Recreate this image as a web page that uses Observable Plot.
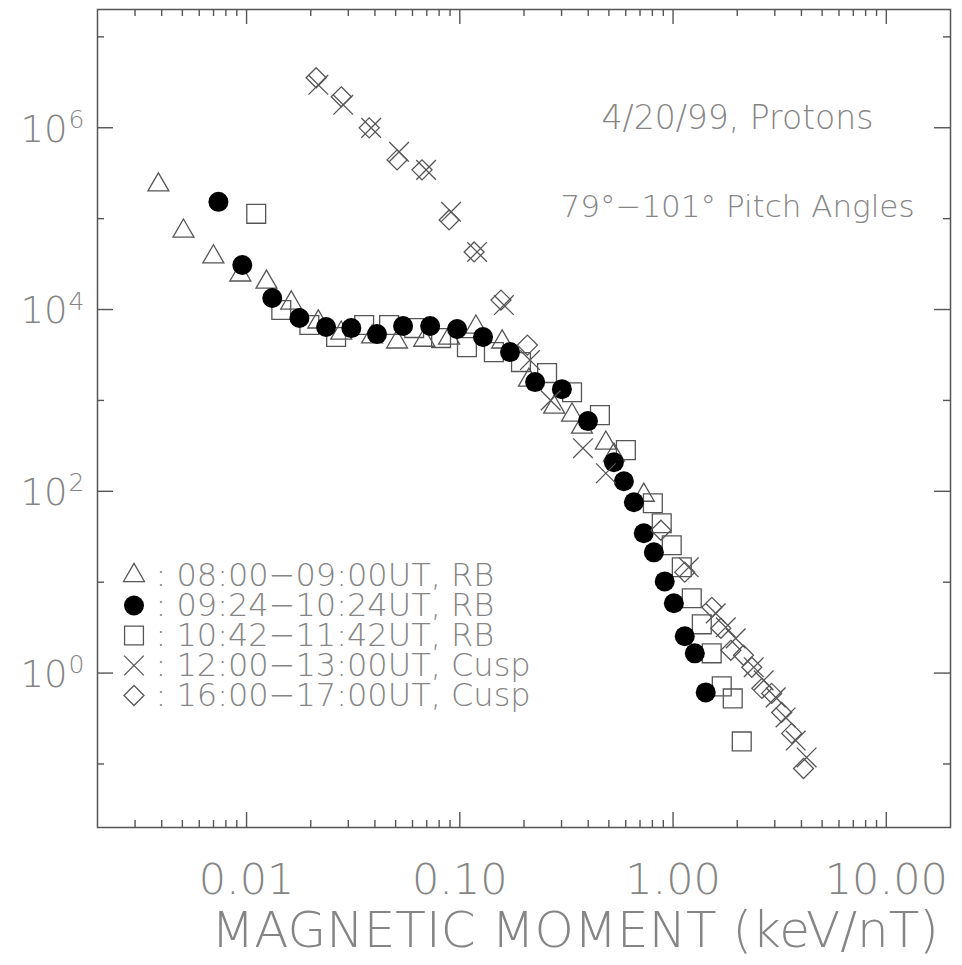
<!DOCTYPE html>
<html>
<head>
<meta charset="utf-8">
<script src="https://cdn.jsdelivr.net/npm/d3@7"></script>
<script src="https://cdn.jsdelivr.net/npm/@observablehq/plot@0.6"></script>
<style>
  html, body { margin: 0; padding: 0; background: #fff; }
  #chart svg { display: block; }
</style>
</head>
<body>
<div id="chart"></div>
<script>
// ---- Data (magnetic moment in keV/nT, phase space density) ----
const triM = [0.00386, 0.00506, 0.00699, 0.00935, 0.0124, 0.0162, 0.0217, 0.0278, 0.0388, 0.0508, 0.0681, 0.0891, 0.119, 0.158, 0.211, 0.277, 0.336, 0.374, 0.484, 0.528, 0.729];
const triF = [2.35e5, 7.3e4, 3.8e4, 2.4e4, 2.0e4, 1.18e4, 7.3e3, 5.5e3, 5.0e3, 4.4e3, 4.6e3, 4.85e3, 6.4e3, 4.4e3, 1.67e3, 844, 689, 508, 339, 250, 90.6];

const cirM = [0.00738, 0.00955, 0.0132, 0.0177, 0.0236, 0.031, 0.0409, 0.0542, 0.0726, 0.0971, 0.1285, 0.172, 0.2255, 0.301, 0.399, 0.528, 0.588, 0.655, 0.729, 0.813, 0.914, 1.009, 1.135, 1.265, 1.423];
const cirF = [1.53e5, 3.09e4, 1.34e4, 8.06e3, 6.42e3, 6.25e3, 5.37e3, 6.58e3, 6.58e3, 6.10e3, 4.98e3, 3.40e3, 1.59e3, 1.33e3, 592, 209, 129, 75.8, 34.6, 21.3, 10.2, 5.86, 2.54, 1.65, 0.613];

const sqM = [0.0111, 0.01455, 0.0197, 0.0263, 0.0356, 0.0466, 0.0611, 0.0817, 0.108, 0.1445, 0.1936, 0.2566, 0.336, 0.454, 0.601, 0.804, 0.885, 0.986, 1.099, 1.224, 1.364, 1.518, 1.692, 1.905, 2.10];
const sqF = [1.13e5, 9.87e3, 6.75e3, 4.98e3, 6.75e3, 6.75e3, 6.25e3, 4.85e3, 3.86e3, 3.40e3, 2.64e3, 2.0e3, 1.23e3, 689, 284, 73.9, 44.5, 25.5, 14.6, 6.65, 3.44, 1.65, 0.714, 0.526, 0.177];

const crsM = [0.0217, 0.0284, 0.0384, 0.0519, 0.0695, 0.091, 0.1205, 0.161, 0.2133, 0.2667, 0.378, 0.484, 1.185, 1.585, 1.767, 1.967, 2.39, 2.66, 3.03, 3.37, 3.76, 4.23];
const crsF = [2.97e6, 1.79e6, 9.97e5, 5.43e5, 3.44e5, 1.19e5, 4.30e4, 1.12e4, 2.78e3, 1.0e3, 298, 158, 14.6, 4.54, 3.19, 2.41, 1.16, 0.831, 0.540, 0.325, 0.181, 0.118];

const diaM = [0.0212, 0.0278, 0.0376, 0.0508, 0.0665, 0.0891, 0.1167, 0.156, 0.2075, 0.877, 1.135, 1.52, 1.675, 1.866, 2.14, 2.34, 2.61, 2.90, 3.23, 3.60, 4.09];
const diaF = [3.55e6, 2.19e6, 9.97e5, 4.43e5, 3.44e5, 9.68e4, 4.30e4, 1.27e4, 4.06e3, 37.3, 12.9, 5.29, 3.11, 1.78, 1.57, 1.16, 0.679, 0.598, 0.369, 0.217, 0.0892];

const seriesLabels = [
  ": 08:00\u221209:00UT, RB",
  ": 09:24\u221210:24UT, RB",
  ": 10:42\u221211:42UT, RB",
  ": 12:00\u221213:00UT, Cusp",
  ": 16:00\u221217:00UT, Cusp"
];
const annotations = ["4/20/99, Protons", "79\u00b0\u2212101\u00b0 Pitch Angles"];
const xTitle = "MAGNETIC MOMENT (keV/nT)";

// ---- Axis ticks ----
const xMajor = [0.01, 0.1, 1, 10];
const xMajorLabels = ["0.01", "0.10", "1.00", "10.00"];
const xMinor = [];
for (const dec of [0.001, 0.01, 0.1, 1]) for (let k = 2; k <= 9; k++) {
  const v = +(dec * k).toPrecision(3);
  if (v > 0.002 && v < 20) xMinor.push(v);
}
const yMajor = [1, 1e2, 1e4, 1e6];
const yMajorExp = ["0", "2", "4", "6"];
const yMinor = [1e-1, 1e1, 1e3, 1e5, 1e7];

// ---- Layout ----
const W = 962, H = 965;
const mL = 97, mR = 12, mT = 9, mB = 138;
const iW = W - mL - mR, iH = H - mT - mB;
const ink = "#555";
const txt = "#858585";
const font = "DejaVu Sans";

const zip = (a, b) => a.map((m, i) => ({m, f: b[i]}));
const tri = zip(triM, triF), cir = zip(cirM, cirF), sq = zip(sqM, sqF), crs = zip(crsM, crsF), dia = zip(diaM, diaF);

const symStyle = [
  {symbol: "triangle2", r: 10, fill: "none", stroke: ink},
  {symbol: "circle", r: 10, fill: "black", stroke: "none"},
  {symbol: "square2", r: 12, fill: "none", stroke: ink},
  {symbol: "times", r: 9, fill: "none", stroke: ink},
  {symbol: "diamond2", r: 9, fill: "none", stroke: ink}
];

const tickOpts = {stroke: ink, strokeWidth: 1.4};

const marks = [
  Plot.frame({stroke: ink, strokeWidth: 1.5}),
  // bottom ticks
  Plot.tickX(xMajor, {x: d => d, insetTop: iH - 15, ...tickOpts}),
  Plot.tickX(xMinor, {x: d => d, insetTop: iH - 7, ...tickOpts}),
  // top ticks
  Plot.tickX(xMajor, {x: d => d, insetBottom: iH - 15, ...tickOpts}),
  Plot.tickX(xMinor, {x: d => d, insetBottom: iH - 7, ...tickOpts}),
  // left ticks
  Plot.tickY(yMajor, {y: d => d, insetRight: iW - 16, ...tickOpts}),
  Plot.tickY(yMinor, {y: d => d, insetRight: iW - 7, ...tickOpts}),
  // right ticks
  Plot.tickY(yMajor, {y: d => d, insetLeft: iW - 16, ...tickOpts}),
  Plot.tickY(yMinor, {y: d => d, insetLeft: iW - 7, ...tickOpts}),
  // x labels
  Plot.text(xMajor, {x: d => d, frameAnchor: "bottom", dy: 53, text: xMajorLabels, fontSize: 43, fill: txt, lineAnchor: "middle", textAnchor: "middle"}),
  // y labels
  Plot.text(yMajor, {y: d => d, frameAnchor: "left", dx: -30, dy: 2, text: () => "10", textAnchor: "end", lineAnchor: "middle", fontSize: 37, fill: txt}),
  Plot.text(yMajor, {y: d => d, frameAnchor: "left", dx: -29, dy: -8, text: yMajorExp, textAnchor: "start", lineAnchor: "middle", fontSize: 25, fill: txt}),
  // x title
  Plot.text([xTitle], {frameAnchor: "bottom", dx: 51, dy: 103, text: d => d, fontSize: 50, fill: txt, lineAnchor: "middle", textAnchor: "middle"}),
  // annotations
  Plot.text([annotations[0]], {frameAnchor: "top-left", dx: 640, dy: 109, text: d => d, fontSize: 33, fill: txt, textAnchor: "middle", lineAnchor: "middle"}),
  Plot.text([annotations[1]], {frameAnchor: "top-left", dx: 640, dy: 198, text: d => d, fontSize: 31, fill: txt, textAnchor: "middle", lineAnchor: "middle"}),
  // data
  Plot.dot(tri, {x: "m", y: "f", ...symStyle[0], strokeWidth: 1.3}),
  Plot.dot(sq, {x: "m", y: "f", ...symStyle[2], strokeWidth: 1.3}),
  Plot.dot(cir, {x: "m", y: "f", ...symStyle[1]}),
  Plot.dot(crs, {x: "m", y: "f", ...symStyle[3], strokeWidth: 1.3}),
  Plot.dot(dia, {x: "m", y: "f", ...symStyle[4], strokeWidth: 1.3})
];

// legend rows
seriesLabels.forEach((lab, i) => {
  const dy = 566 + 30 * i;
  marks.push(Plot.dot([lab], {frameAnchor: "top-left", dx: 36.5, dy, ...symStyle[i], strokeWidth: 1.3}));
  marks.push(Plot.text([lab], {frameAnchor: "top-left", dx: 58, dy, text: d => d, textAnchor: "start", lineAnchor: "middle", fontSize: 32, fill: txt}));
});

const chart = Plot.plot({
  width: W, height: H,
  marginLeft: mL, marginRight: mR, marginTop: mT, marginBottom: mB,
  x: {type: "log", domain: [0.002, 20], axis: null},
  y: {type: "log", domain: [0.02, 2e7], axis: null},
  style: {fontFamily: font, background: "white", fontWeight: 200},
  marks
});
document.getElementById("chart").appendChild(chart);
</script>
</body>
</html>
